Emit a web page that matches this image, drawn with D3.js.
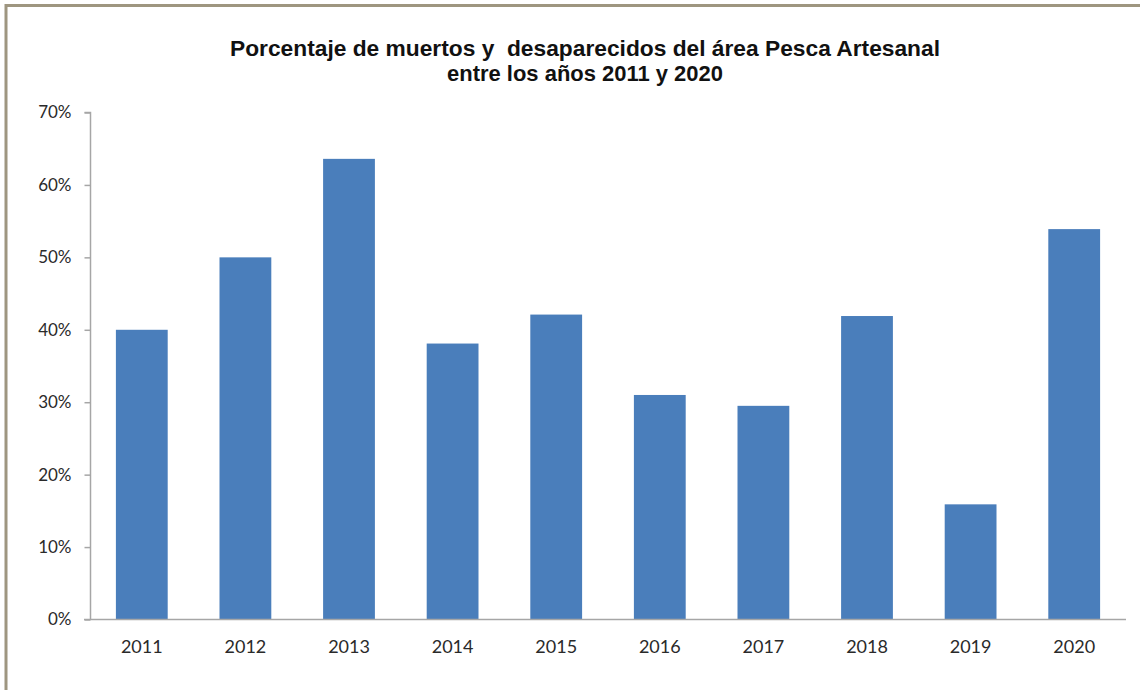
<!DOCTYPE html>
<html>
<head>
<meta charset="utf-8">
<script src="https://cdn.jsdelivr.net/npm/d3@7"></script>
<style>
  html, body { margin: 0; padding: 0; background: #fff; }
  svg { display: block; }
  .title { white-space: pre; }
</style>
</head>
<body>
<svg id="chart" width="1140" height="690"></svg>
<script>
const years = ["2011","2012","2013","2014","2015","2016","2017","2018","2019","2020"];
const values = [0.40, 0.50, 0.636, 0.381, 0.421, 0.310, 0.295, 0.419, 0.159, 0.539];
const yTicks = [0, 0.1, 0.2, 0.3, 0.4, 0.5, 0.6, 0.7];
const titleLines = ["Porcentaje de muertos y  desaparecidos del área Pesca Artesanal", "entre los años 2011 y 2020"];

const svg = d3.select("#chart");
const W = 1140, H = 690;

// outer frame (top and left edges visible)
svg.append("rect").attr("x", 0).attr("y", 0).attr("width", W).attr("height", H).attr("fill", "#fff");
svg.append("line").attr("x1", 5).attr("x2", W).attr("y1", 5.5).attr("y2", 5.5)
  .attr("stroke", "#9e9680").attr("stroke-width", 3);
svg.append("line").attr("x1", 6).attr("x2", 6).attr("y1", 4).attr("y2", H)
  .attr("stroke", "#9e9680").attr("stroke-width", 3);

const x = d3.scaleBand().domain(years).range([90, 1126]).paddingInner(0.5).paddingOuter(0.25);
const y = d3.scaleLinear().domain([0, 0.7]).range([619.5, 112.5]);

// bars
svg.append("g").selectAll("rect").data(values).join("rect")
  .attr("x", (d, i) => x(years[i]))
  .attr("width", x.bandwidth())
  .attr("y", d => y(d))
  .attr("height", d => y(0) - y(d))
  .attr("fill", "#4a7ebb");

// y axis
const yAxis = d3.axisLeft(y).tickValues(yTicks).tickFormat(d3.format(".0%")).tickSize(6).tickPadding(13);
const gy = svg.append("g").attr("transform", "translate(90.5,0)").call(yAxis);
gy.select(".domain").attr("stroke", "#a6a6a6").attr("stroke-width", 1.5).attr("d", "M-6,112.5H0V619.5");
gy.selectAll(".tick line").attr("stroke", "#a6a6a6").attr("stroke-width", 1.5);
gy.selectAll(".tick text").attr("fill", "#2a2a2a").style("font-family", "Lato, 'Open Sans', sans-serif").style("font-size", "17px");

// x axis
const xAxis = d3.axisBottom(x).tickSize(0).tickPadding(21);
const gx = svg.append("g").attr("transform", "translate(0,619.5)").call(xAxis);
gx.select(".domain").attr("stroke", "#a6a6a6").attr("stroke-width", 1.5).attr("d", "M84,0H1126");
gx.selectAll(".tick text").attr("fill", "#2a2a2a").style("font-family", "Lato, 'Open Sans', sans-serif").style("font-size", "18px");

// title
const tw = [710, 276];
const ty = [56, 81];
svg.append("g").selectAll("text").data(titleLines).join("text")
  .attr("class", "title")
  .attr("x", 585)
  .attr("y", (d, i) => ty[i])
  .attr("text-anchor", "middle")
  .attr("textLength", (d, i) => tw[i])
  .attr("lengthAdjust", "spacingAndGlyphs")
  .style("font-family", "'Liberation Sans Narrow', 'Liberation Sans', Arial, sans-serif")
  .style("font-weight", "bold")
  .style("font-size", "22px")
  .attr("fill", "#111")
  .text(d => d);
</script>
</body>
</html>
